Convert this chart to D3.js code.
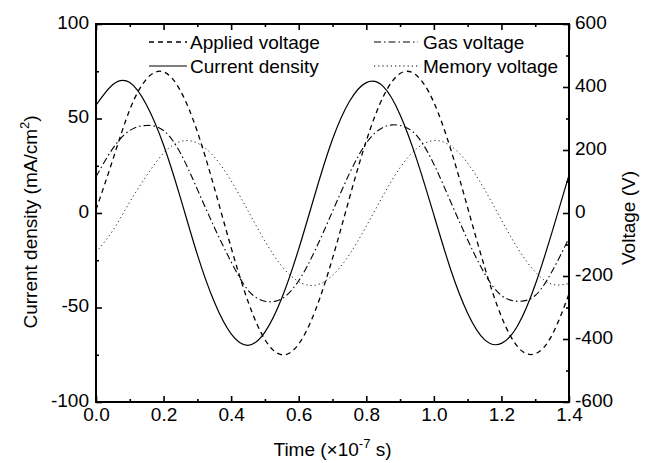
<!DOCTYPE html>
<html><head><meta charset="utf-8">
<script src="https://cdn.jsdelivr.net/npm/d3@7"></script>
<style>body{margin:0;background:#fff}svg{display:block}</style>
</head><body><svg id="c" width="647" height="463"></svg>
<script>
// time (x10^-7 s)
const time = [0.00,0.05,0.10,0.15,0.20,0.25,0.30,0.35,0.40,0.45,0.50,0.55,0.60,0.65,0.70,
              0.75,0.80,0.85,0.90,0.95,1.00,1.05,1.10,1.15,1.20,1.25,1.30,1.35,1.40];
// current density (mA/cm2), left axis
const currentDensity = [57,68,69,57,36,8,-22,-47,-64,-70,-63,-45,-19,11,39,
                        59,69,67,52,28,-1,-30,-53,-67,-69,-59,-38,-10,20];
// voltages (V), right axis
const appliedVoltage = [10,170,328,426,448,388,258,81,-110,-281,-402,-450,-416,-307,-144,
                        47,229,369,443,436,351,202,17,-171,-329,-427,-447,-387,-257];
const gasVoltage = [115,205,262,278,262,190,75,-45,-155,-245,-280,-272,-215,-115,5,
                    125,222,272,278,245,155,35,-85,-192,-262,-280,-262,-185,-80];
const memoryVoltage = [-125,-55,35,119,190,227,222,178,102,7,-89,-169,-218,-229,-198,
                       -132,-42,56,144,205,230,213,158,75,-22,-115,-187,-226,-224];

const xTicks = [0,0.2,0.4,0.6,0.8,1.0,1.2,1.4];
const xMinor = [0.1,0.3,0.5,0.7,0.9,1.1,1.3];
const leftTicks = [-100,-50,0,50,100];
const leftMinor = [-75,-25,25,75];
const rightTicks = [-600,-400,-200,0,200,400,600];
const rightMinor = [-500,-300,-100,100,300,500];

const legendItems = [
  {name:"Applied voltage", dash:"5,4", w:1.3, col:0, row:0},
  {name:"Gas voltage", dash:"7,3,1.5,3", w:1.1, col:1, row:0},
  {name:"Current density", dash:null, w:1.2, col:0, row:1},
  {name:"Memory voltage", dash:"1.2,3", w:1, col:1, row:1}
];

const L = 96, R = 569, T = 24, B = 402;
const FONT = "'Liberation Sans', Arial, sans-serif";
const svg = d3.select("#c");

const x = d3.scaleLinear().domain([0,1.4]).range([L,R]);
const yL = d3.scaleLinear().domain([-100,100]).range([B,T]);
const yR = d3.scaleLinear().domain([-600,600]).range([B,T]);

svg.append("clipPath").attr("id","pc").append("rect")
  .attr("x",L).attr("y",T).attr("width",R-L).attr("height",B-T);

const g = svg.append("g").attr("clip-path","url(#pc)");
function drawLine(vals, yScale, dash, w, col){
  const line = d3.line().x((d,i)=>x(time[i])).y(d=>yScale(d)).curve(d3.curveNatural);
  g.append("path").attr("d", line(vals)).attr("fill","none")
    .attr("stroke", col||"#000").attr("stroke-width", w)
    .attr("stroke-dasharray", dash);
}
drawLine(appliedVoltage, yR, "5,4", 1.3);
drawLine(gasVoltage, yR, "7,3,1.5,3", 1.1);
drawLine(memoryVoltage, yR, "1.2,3", 1, "#222");
drawLine(currentDensity, yL, null, 1.2);

const intFmt = d => String(d);
function styleAxis(sel){
  sel.select(".domain").remove();
  sel.selectAll(".tick line").attr("stroke","#000").attr("stroke-width",1.6);
  sel.selectAll("text").attr("font-family",FONT).attr("font-size",19).attr("fill","#000");
}
// bottom
svg.append("g").attr("transform",`translate(0,${B})`)
  .call(d3.axisBottom(x).tickValues(xTicks).tickSize(-6).tickPadding(6).tickFormat(d3.format(".1f")))
  .call(styleAxis);
svg.append("g").attr("transform",`translate(0,${B})`)
  .call(d3.axisBottom(x).tickValues(xMinor).tickSize(-3).tickFormat("")).call(styleAxis);
// top
svg.append("g").attr("transform",`translate(0,${T})`)
  .call(d3.axisTop(x).tickValues(xTicks).tickSize(-6).tickFormat("")).call(styleAxis);
svg.append("g").attr("transform",`translate(0,${T})`)
  .call(d3.axisTop(x).tickValues(xMinor).tickSize(-3).tickFormat("")).call(styleAxis);
// left
svg.append("g").attr("transform",`translate(${L},0)`)
  .call(d3.axisLeft(yL).tickValues(leftTicks).tickSize(-6).tickPadding(7).tickFormat(intFmt))
  .call(styleAxis).call(s=>s.selectAll("text").attr("dy","0.22em"));
svg.append("g").attr("transform",`translate(${L},0)`)
  .call(d3.axisLeft(yL).tickValues(leftMinor).tickSize(-3).tickFormat("")).call(styleAxis);
// right
svg.append("g").attr("transform",`translate(${R},0)`)
  .call(d3.axisRight(yR).tickValues(rightTicks).tickSize(-6).tickPadding(6).tickFormat(intFmt))
  .call(styleAxis).call(s=>s.selectAll("text").attr("dy","0.22em"));
svg.append("g").attr("transform",`translate(${R},0)`)
  .call(d3.axisRight(yR).tickValues(rightMinor).tickSize(-3).tickFormat("")).call(styleAxis);

// frame
svg.append("rect").attr("x",L).attr("y",T).attr("width",R-L).attr("height",B-T)
  .attr("fill","none").attr("stroke","#000").attr("stroke-width",2);

// axis titles
const xt = svg.append("text").attr("x",(L+R)/2).attr("y",456).attr("text-anchor","middle")
  .attr("font-family",FONT).attr("font-size",19);
xt.append("tspan").text("Time (\u00d710");
xt.append("tspan").attr("dy",-8).attr("font-size",13).text("-7");
xt.append("tspan").attr("dy",8).text(" s)");

const yt = svg.append("text").attr("transform","translate(37,222) rotate(-90)")
  .attr("text-anchor","middle").attr("font-family",FONT).attr("font-size",19);
yt.append("tspan").text("Current density (mA/cm");
yt.append("tspan").attr("dy",-8).attr("font-size",13).text("2");
yt.append("tspan").attr("dy",8).text(")");

svg.append("text").attr("transform","translate(635,218) rotate(-90)")
  .attr("text-anchor","middle").attr("font-family",FONT).attr("font-size",19).text("Voltage (V)");

// legend
const colX = [[149,187,190],[374,418,423]];
const rowY = [42,66];
legendItems.forEach(it=>{
  const [x0,x1,tx] = colX[it.col]; const yy = rowY[it.row];
  svg.append("line").attr("x1",x0).attr("x2",x1).attr("y1",yy).attr("y2",yy)
    .attr("stroke","#000").attr("stroke-width",it.w).attr("stroke-dasharray",it.dash);
  svg.append("text").attr("x",tx).attr("y",yy).attr("dy","0.35em")
    .attr("font-family",FONT).attr("font-size",19).text(it.name);
});
</script></body></html>
